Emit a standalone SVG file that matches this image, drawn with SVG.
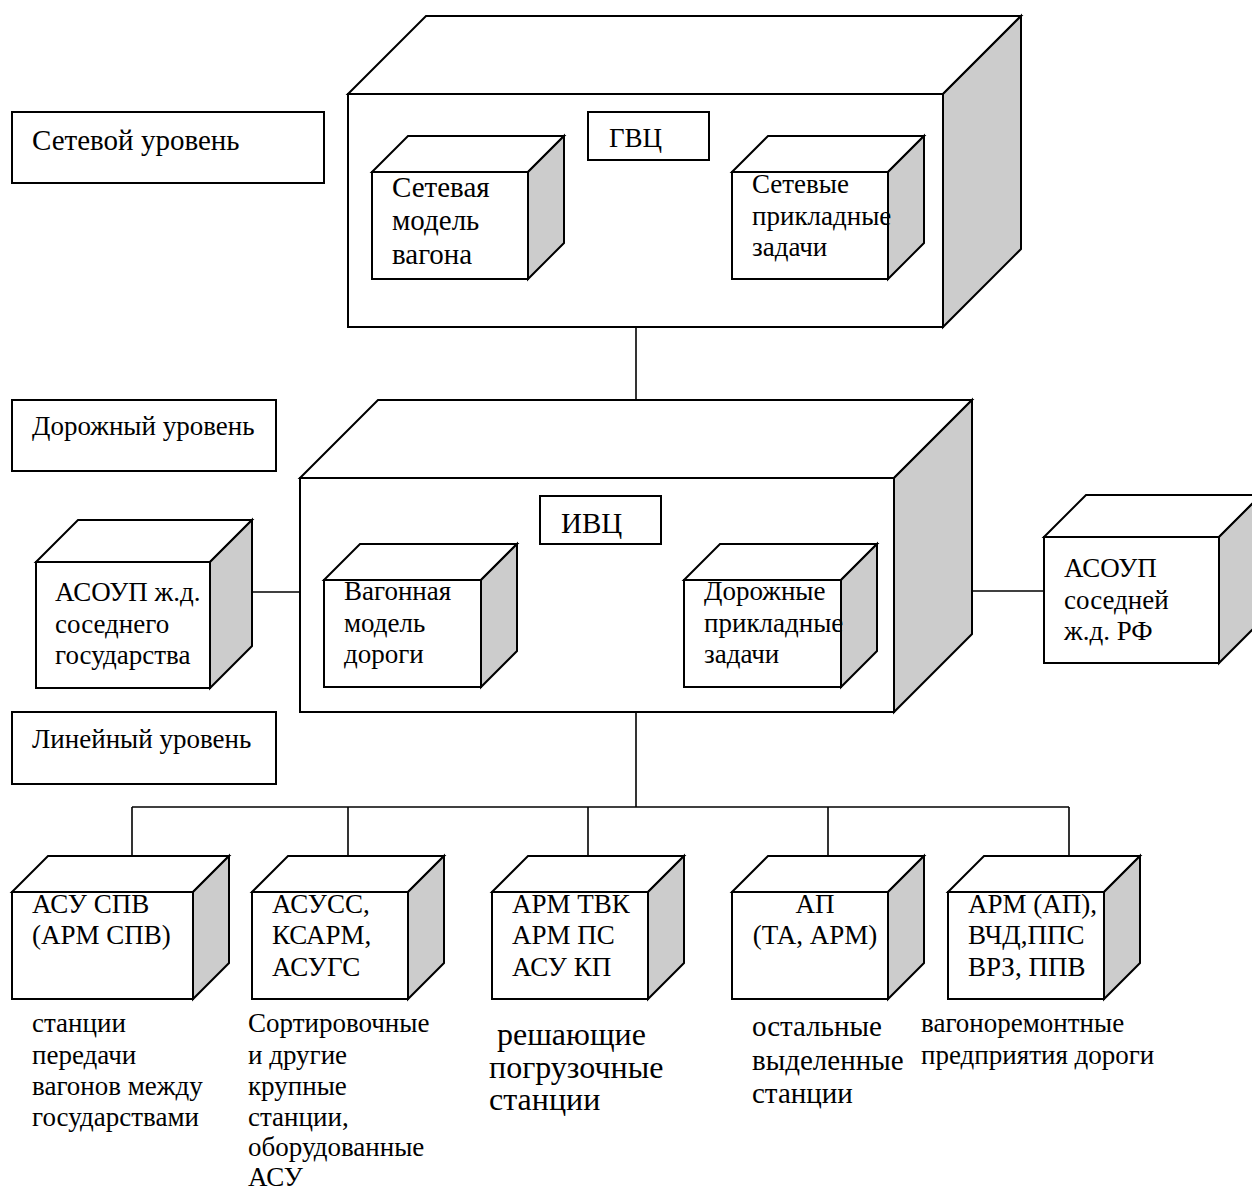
<svg xmlns="http://www.w3.org/2000/svg" width="1252" height="1190" viewBox="0 0 1252 1190">
  <style>
    .face { fill: #ffffff; stroke: #000; stroke-width: 2; stroke-linejoin: miter; }
    .side { fill: #cccccc; stroke: #000; stroke-width: 2; stroke-linejoin: miter; }
    .box { fill: #ffffff; stroke: #000; stroke-width: 2; }
    .link { fill: none; stroke: #000; stroke-width: 1.6; }
    text { font-family: "Liberation Serif", "Times New Roman", serif; font-size: 27px; fill: #000; }
    .big { font-size: 29px; }
    .note3 { font-size: 32px; }
    .note4 { font-size: 29px; }
    .mid { text-anchor: middle; }
  </style>

  <rect width="1252" height="1190" fill="#ffffff"/>

  <!-- connectors -->
  <g id="connectors">
    <line class="link" x1="564" y1="208" x2="732" y2="208"/>
    <line class="link" x1="636" y1="327" x2="636" y2="400"/>
    <line class="link" x1="517" y1="615" x2="684" y2="615"/>
    <line class="link" x1="252" y1="592" x2="300" y2="592"/>
    <line class="link" x1="972" y1="591" x2="1044" y2="591"/>
    <line class="link" x1="636" y1="712" x2="636" y2="807"/>
    <line class="link" x1="132" y1="807" x2="1069" y2="807"/>
    <line class="link" x1="132" y1="807" x2="132" y2="856"/>
    <line class="link" x1="348" y1="807" x2="348" y2="856"/>
    <line class="link" x1="588" y1="807" x2="588" y2="856"/>
    <line class="link" x1="828" y1="807" x2="828" y2="856"/>
    <line class="link" x1="1069" y1="807" x2="1069" y2="856"/>
  </g>

  <!-- level labels -->
  <g id="level-network">
    <rect class="box" x="12" y="112" width="312" height="71"/>
    <text class="big" x="32" y="150">Сетевой уровень</text>
  </g>
  <g id="level-road">
    <rect class="box" x="12" y="400" width="264" height="71"/>
    <text x="32" y="435">Дорожный уровень</text>
  </g>
  <g id="level-line">
    <rect class="box" x="12" y="712" width="264" height="72"/>
    <text x="32" y="748">Линейный уровень</text>
  </g>

  <!-- ГВЦ (network level node) -->
  <g id="gvc">
    <polygon class="face" points="348,94 426,16 1021,16 943,94"/>
    <polygon class="side" points="943,94 1021,16 1021,249 943,327"/>
    <rect class="face" x="348" y="94" width="595" height="233"/>
    <rect class="box" x="588" y="112" width="121" height="48"/>
    <text x="609" y="147" font-size="28">ГВЦ</text>
  </g>
  <g id="gvc-model">
    <polygon class="face" points="372,172 408,136 564,136 528,172"/>
    <polygon class="side" points="528,172 564,136 564,243 528,279"/>
    <rect class="face" x="372" y="172" width="156" height="107"/>
    <text class="big" x="392" y="196.5">Сетевая</text>
    <text class="big" x="392" y="230">модель</text>
    <text class="big" x="392" y="263.5">вагона</text>
  </g>
  <g id="gvc-tasks">
    <polygon class="face" points="732,172 768,136 924,136 888,172"/>
    <polygon class="side" points="888,172 924,136 924,243 888,279"/>
    <rect class="face" x="732" y="172" width="156" height="107"/>
    <text x="752" y="193">Сетевые</text>
    <text x="752" y="224.5">прикладные</text>
    <text x="752" y="256">задачи</text>
  </g>

  <!-- ИВЦ (road level node) -->
  <g id="ivc">
    <polygon class="face" points="300,478 378,400 972,400 894,478"/>
    <polygon class="side" points="894,478 972,400 972,634 894,712"/>
    <rect class="face" x="300" y="478" width="594" height="234"/>
    <rect class="box" x="540" y="496" width="121" height="48"/>
    <text class="big" x="561" y="533">ИВЦ</text>
  </g>
  <g id="ivc-model">
    <polygon class="face" points="324,580 360,544 517,544 481,580"/>
    <polygon class="side" points="481,580 517,544 517,651 481,687"/>
    <rect class="face" x="324" y="580" width="157" height="107"/>
    <text x="344" y="600">Вагонная</text>
    <text x="344" y="631.5">модель</text>
    <text x="344" y="663">дороги</text>
  </g>
  <g id="ivc-tasks">
    <polygon class="face" points="684,580 720,544 877,544 841,580"/>
    <polygon class="side" points="841,580 877,544 877,651 841,687"/>
    <rect class="face" x="684" y="580" width="157" height="107"/>
    <text x="704" y="600">Дорожные</text>
    <text x="704" y="631.5">прикладные</text>
    <text x="704" y="663">задачи</text>
  </g>

  <!-- neighbouring railways -->
  <g id="asoup-foreign">
    <polygon class="face" points="36,562 78,520 252,520 210,562"/>
    <polygon class="side" points="210,562 252,520 252,646 210,688"/>
    <rect class="face" x="36" y="562" width="174" height="126"/>
    <text x="55" y="601">АСОУП ж.д.</text>
    <text x="55" y="632.5">соседнего</text>
    <text x="55" y="664">государства</text>
  </g>
  <g id="asoup-rf">
    <polygon class="face" points="1044,537 1086,495 1261,495 1219,537"/>
    <polygon class="side" points="1219,537 1261,495 1261,621 1219,663"/>
    <rect class="face" x="1044" y="537" width="175" height="126"/>
    <text x="1064" y="577">АСОУП</text>
    <text x="1064" y="608.5">соседней</text>
    <text x="1064" y="640">ж.д. РФ</text>
  </g>

  <!-- line level nodes -->
  <g id="asu-spv">
    <polygon class="face" points="12,892 48,856 229,856 193,892"/>
    <polygon class="side" points="193,892 229,856 229,963 193,999"/>
    <rect class="face" x="12" y="892" width="181" height="107"/>
    <text x="32" y="912.5">АСУ СПВ</text>
    <text x="32" y="944">(АРМ СПВ)</text>
    <text x="32" y="1032">станции</text>
    <text x="32" y="1063.5">передачи</text>
    <text x="32" y="1095">вагонов между</text>
    <text x="32" y="1126">государствами</text>
  </g>
  <g id="asuss">
    <polygon class="face" points="252,892 288,856 444,856 408,892"/>
    <polygon class="side" points="408,892 444,856 444,963 408,999"/>
    <rect class="face" x="252" y="892" width="156" height="107"/>
    <text x="272" y="912.5">АСУСС,</text>
    <text x="272" y="944">КСАРМ,</text>
    <text x="272" y="975.5">АСУГС</text>
    <text x="248" y="1032">Сортировочные</text>
    <text x="248" y="1063.5">и другие</text>
    <text x="248" y="1095">крупные</text>
    <text x="248" y="1126">станции,</text>
    <text x="248" y="1156">оборудованные</text>
    <text x="248" y="1186">АСУ</text>
  </g>
  <g id="arm-tvk">
    <polygon class="face" points="492,892 528,856 684,856 648,892"/>
    <polygon class="side" points="648,892 684,856 684,963 648,999"/>
    <rect class="face" x="492" y="892" width="156" height="107"/>
    <text x="512" y="912.5">АРМ ТВК</text>
    <text x="512" y="944">АРМ ПС</text>
    <text x="512" y="975.5">АСУ КП</text>
    <text class="note3" x="497" y="1045">решающие</text>
    <text class="note3" x="489" y="1077.5">погрузочные</text>
    <text class="note3" x="489" y="1110">станции</text>
  </g>
  <g id="ap">
    <polygon class="face" points="732,892 768,856 924,856 888,892"/>
    <polygon class="side" points="888,892 924,856 924,963 888,999"/>
    <rect class="face" x="732" y="892" width="156" height="107"/>
    <text class="mid" x="815" y="912.5">АП</text>
    <text class="mid" x="815" y="944">(ТА, АРМ)</text>
    <text class="note4" x="752" y="1036">остальные</text>
    <text class="note4" x="752" y="1069.5">выделенные</text>
    <text class="note4" x="752" y="1103">станции</text>
  </g>
  <g id="arm-ap">
    <polygon class="face" points="948,892 984,856 1140,856 1104,892"/>
    <polygon class="side" points="1104,892 1140,856 1140,963 1104,999"/>
    <rect class="face" x="948" y="892" width="156" height="107"/>
    <text x="968" y="912.5">АРМ (АП),</text>
    <text x="968" y="944">ВЧД,ППС</text>
    <text x="968" y="975.5">ВРЗ, ППВ</text>
    <text x="921" y="1032" font-size="26.5">вагоноремонтные</text>
    <text x="921" y="1063.5" font-size="26.5">предприятия дороги</text>
  </g>
</svg>
